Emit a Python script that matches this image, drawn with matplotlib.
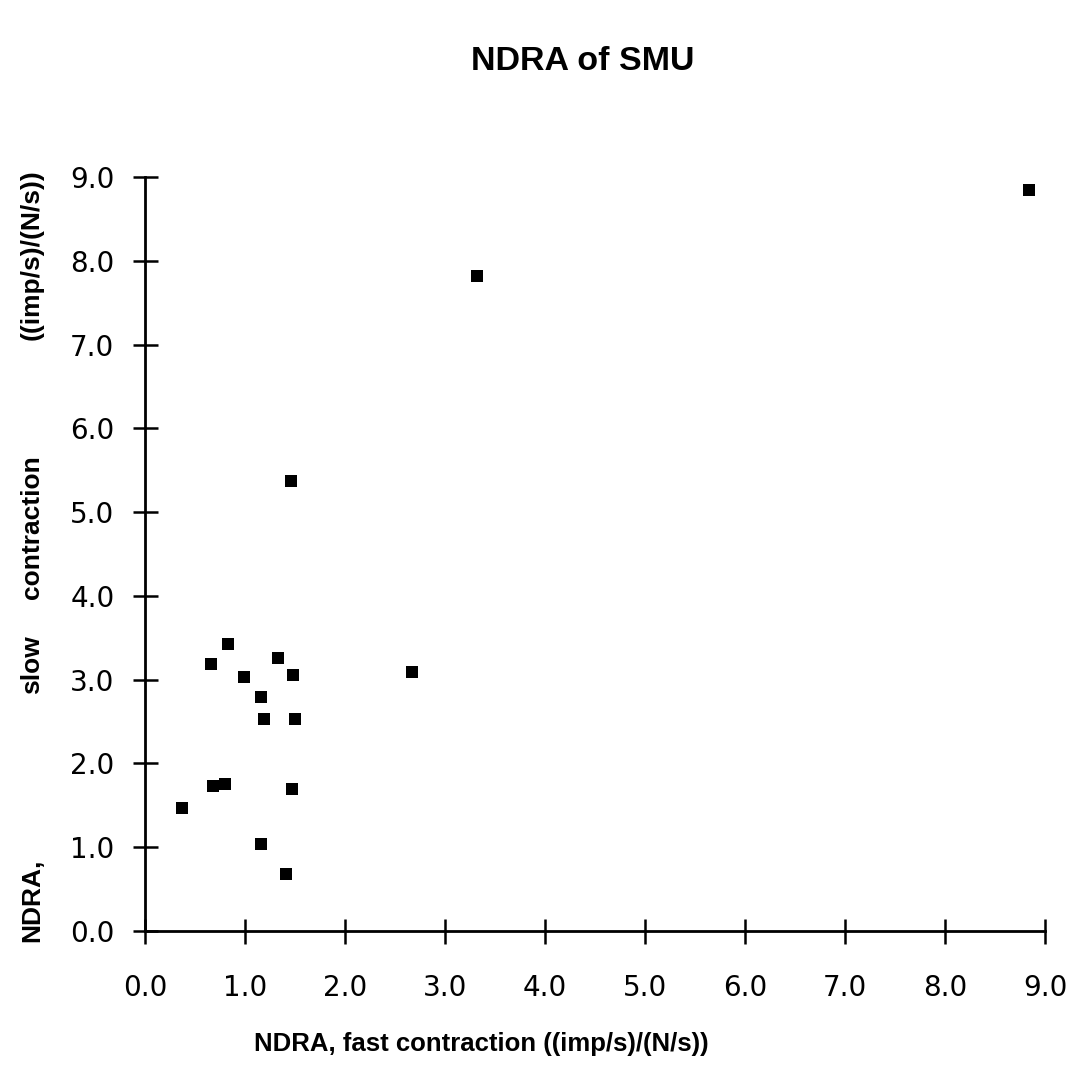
import matplotlib

matplotlib.use("Agg")
import matplotlib.pyplot as plt

# NDRA values, (imp/s)/(N/s)
fast_ndra = [0.37, 0.66, 0.83, 0.99, 1.16, 1.19, 1.33, 1.48, 1.50, 0.68,
             0.80, 1.47, 1.16, 1.41, 1.46, 2.67, 3.32, 8.84]
slow_ndra = [1.47, 3.19, 3.42, 3.03, 2.79, 2.53, 3.26, 3.06, 2.53, 1.73,
             1.76, 1.70, 1.04, 0.68, 5.37, 3.09, 7.82, 8.85]

tick_values = [0, 1, 2, 3, 4, 5, 6, 7, 8, 9]
tick_labels = [f"{v:.1f}" for v in tick_values]

# y label is spread out word by word in the original
ylabel_words = ["NDRA,", "slow", "contraction", "((imp/s)/(N/s))"]
ylabel_pos = [900, 665, 527, 255]  # pixel rows of word centres

W, H = 1077, 1066
fig = plt.figure(figsize=(W / 100, H / 100), dpi=100)
ax = fig.add_axes([145 / W, 1 - 931 / H, 900 / W, 754 / H])

ax.scatter(fast_ndra, slow_ndra, marker="s", s=72, color="black",
           linewidths=0, clip_on=False, zorder=3)

ax.set_xlim(0, 9)
ax.set_ylim(0, 9)
for side in ("top", "right"):
    ax.spines[side].set_visible(False)
for side in ("left", "bottom"):
    ax.spines[side].set_linewidth(2.0)

ax.set_xticks(tick_values)
ax.set_xticklabels(tick_labels)
ax.set_yticks(tick_values)
ax.set_yticklabels(tick_labels)
ax.tick_params(axis="both", direction="inout", length=18, width=1.8,
               labelsize=20, labelfontfamily="DejaVu Sans")
ax.tick_params(axis="x", pad=22)
ax.tick_params(axis="y", pad=13)

fig.text(583 / W, 1 - 61 / H, "NDRA of SMU", ha="center", va="center",
         fontsize=24.5, fontweight="bold", family="Liberation Sans")
fig.text(481 / W, 1 - 1044 / H, "NDRA, fast contraction ((imp/s)/(N/s))",
         ha="center", va="center", fontsize=18.5, fontweight="bold",
         family="Liberation Sans")
for word, row in zip(ylabel_words, ylabel_pos):
    fig.text(32 / W, 1 - row / H, word, ha="center", va="center",
             rotation=90, fontsize=19, fontweight="bold",
             family="Liberation Sans")

fig.savefig("out.png", dpi=100)
